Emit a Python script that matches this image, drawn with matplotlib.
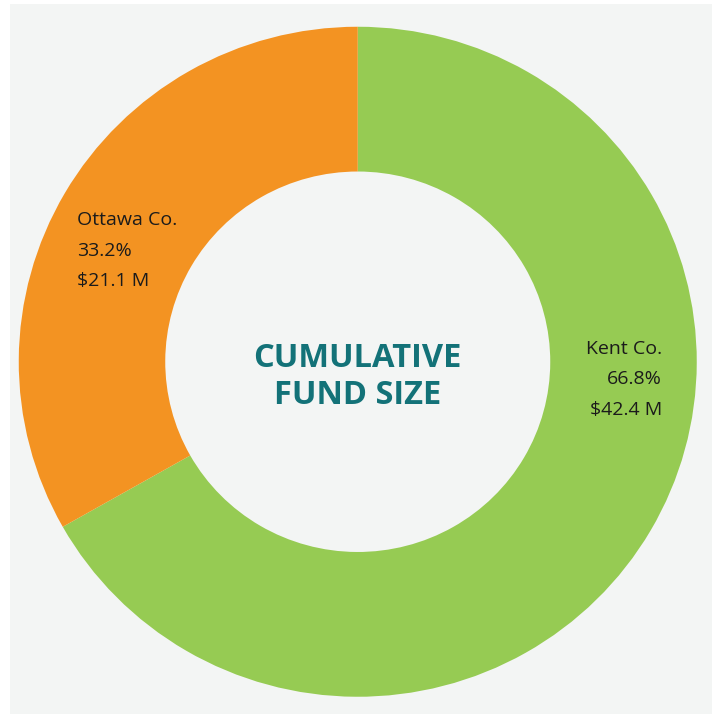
import matplotlib
matplotlib.use("Agg")
import matplotlib.pyplot as plt
from matplotlib.patches import Rectangle

# data
counties = ["Kent Co.", "Ottawa Co."]
shares = [66.8, 33.2]
amounts = ["$42.4 M", "$21.1 M"]
colors = ["#96cb53", "#f39322"]
title_lines = ["CUMULATIVE", "FUND SIZE"]

W, H = 712, 714
fig = plt.figure(figsize=(W / 100, H / 100), dpi=100, facecolor="white")

ax = fig.add_axes([0, 0, 1, 1])
ax.patch.set_visible(False)

# light gray panel (white strip on the left and top)
ax.add_patch(Rectangle((10 / W, 0), 1 - 10 / W, 1 - 4 / H, transform=fig.transFigure,
                       facecolor="#f3f5f4", edgecolor="none", zorder=-5))

# ring is slightly wider than tall in the reference
px_cx, px_cy = 357.75, 361.75   # center in pixels from top-left
r_out, r_in = 339, 192.5
sy = 335 / 339                  # vertical squash
ax.pie(shares, colors=colors, startangle=90, counterclock=False,
       center=(0, 0), radius=r_out,
       wedgeprops=dict(width=r_out - r_in, edgecolor="none"))
ax.set_aspect("auto")
ax.set_xlim(-px_cx, W - px_cx)
y0 = -(H - px_cy) / sy
ax.set_ylim(y0, y0 + H / sy)
ax.axis("off")


def put(px, py, s, **kw):
    fig.text(px / W, 1 - py / H, s, va="baseline", **kw)


txt = dict(fontsize=14, color="#1b1b1b", family="Open Sans")
# Kent label (right aligned)
kent = [counties[0], f"{shares[0]}%", amounts[0]]
for i, s in enumerate(kent):
    put(662, 354 + i * 30.5, s, ha="right", **txt)
# Ottawa label (left aligned)
ott = [counties[1], f"{shares[1]}%", amounts[1]]
for i, s in enumerate(ott):
    put(77, 225 + i * 30.5, s, ha="left", **txt)

for i, s in enumerate(title_lines):
    put(px_cx, 367 + i * 37, s, ha="center", fontsize=23.5,
        fontweight="bold", color="#137278", family="Open Sans")

fig.savefig("out.png", dpi=100, facecolor="white")
